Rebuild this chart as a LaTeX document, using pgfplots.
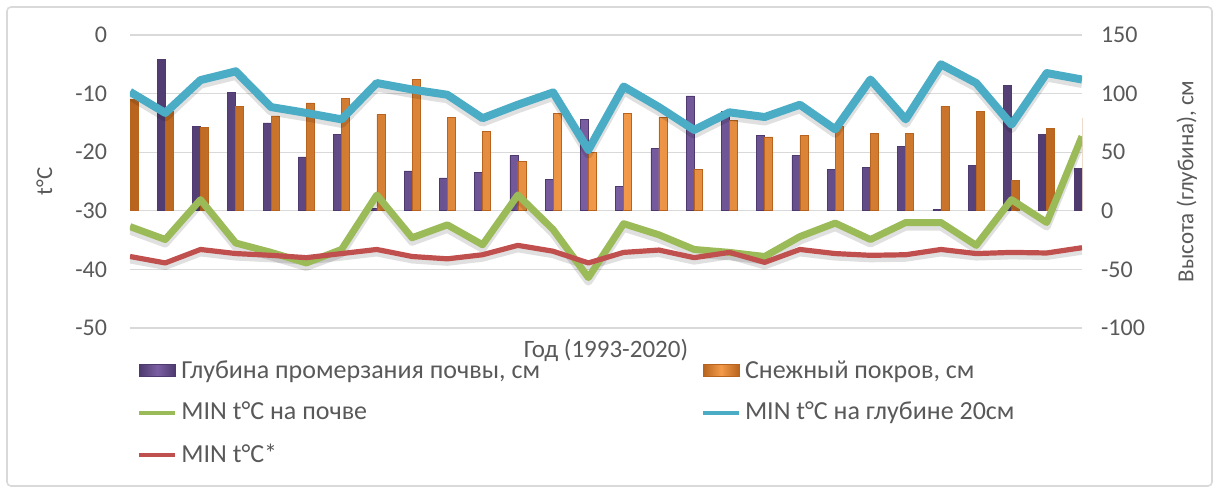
\documentclass[border=0pt]{standalone}
\usepackage{pgfplots}
\pgfplotsset{compat=1.18}
\usepackage{pgfplotstable}
\usepackage{fontspec}
\setmainfont{Carlito}
\definecolor{cpurple}{HTML}{7A5FA3}
\definecolor{cpurpleD}{HTML}{4E3A6E}
\definecolor{corange}{HTML}{F39A4A}
\definecolor{corangeD}{HTML}{B8641E}
\definecolor{cgreen}{HTML}{9BBB59}
\definecolor{cblue}{HTML}{4BACC6}
\definecolor{cred}{HTML}{C0504D}
\definecolor{ctext}{HTML}{595959}
\definecolor{cgrid}{HTML}{D9D9D9}

\pgfplotstableread{
i  frost snow  soil  deep  air
0  40    95   -32.7  -9.7  -37.8
1  129   85   -34.9  -13.3 -38.9
2  72    71   -28.1  -7.7  -36.6
3  101   89   -35.5  -6.2  -37.3
4  75    81   -37.1  -12.3 -37.6
5  46    92   -38.9  -13.3 -38.0
6  65    96   -36.6  -14.4 -37.3
7  2     82   -27.3  -8.2  -36.6
8  34    112  -34.6  -9.3  -37.8
9  28    80   -32.4  -10.2 -38.2
10 33    68   -35.8  -14.2 -37.5
11 47    42   -27.3  -11.9 -35.9
12 27    83   -33.2  -9.8  -36.9
13 78    50   -41.4  -19.6 -38.9
14 21    83   -32.2  -8.8  -37.1
15 53    80   -34.1  -12.3 -36.7
16 98    35   -36.6  -16.2 -38.0
17 85    77   -37.1  -13.2 -37.1
18 64    63   -37.8  -14.0 -38.8
19 47    64   -34.4  -11.9 -36.6
20 35    72   -32.1  -16.1 -37.3
21 37    66   -34.9  -7.6  -37.6
22 55    66   -32.0  -14.4 -37.5
23 1     89   -32.0  -5.0  -36.6
24 39    85   -35.9  -8.2  -37.3
25 107   26   -28.1  -15.3 -37.1
26 65    70   -32.0  -6.5  -37.2
27 36    79   -17.3  -7.6  -36.3
}\data

\begin{document}
\begin{tikzpicture}
\useasboundingbox (0pt,0pt) rectangle (607.5pt,245.5pt);
\draw[cgrid, line width=0.8pt, rounded corners=2pt] (3.5pt,2.5pt) rectangle (606pt,242pt);
% bars on the right axis
\begin{axis}[
  at={(65pt,81.5pt)}, anchor=south west,
  scale only axis, width=476pt, height=146.5pt,
  xmin=0, xmax=27, ymin=-100, ymax=150,
  ytick={-100,-50,...,150},
  xtick=\empty,
  axis y line*=right, axis x line=none,
  axis line style={draw=none},
  major tick length=0pt,
  ymajorgrids, grid style={cgrid, line width=0.6pt},
  /pgf/number format/assume math mode=true,
  yticklabel style={font=\fontsize{12}{14}\selectfont, text=ctext, xshift=6pt},
  ylabel={Высота (глубина), см},
  ylabel style={font=\fontsize{11.5}{14}\selectfont, text=ctext, at={(axis description cs:1.11,0.5)}, anchor=center},
  ybar, bar width=4pt,
  /pgf/bar shift={0pt},
  legend columns=2,
  legend cell align=left,
  legend style={at={(axis description cs:0.001,-0.082)}, anchor=north west,
    draw=none, fill=none, font=\fontsize{13}{15}\selectfont, text=ctext,
    /tikz/every even column/.append style={column sep=78.5pt},
    row sep=6.5pt},
]
\addplot[draw=cpurpleD, line width=0.3pt, left color=cpurpleD, right color=cpurpleD, middle color=cpurple, bar shift=-2pt,
  legend image code/.code={\fill[left color=cpurpleD, right color=cpurpleD, middle color=cpurple, shading angle=90] (0pt,-3pt) rectangle (18pt,3pt);}]
  table[x=i, y=frost] {\data};
\addlegendentry{Глубина промерзания почвы, см}
\addplot[draw=corangeD, line width=0.3pt, left color=corangeD, right color=corangeD, middle color=corange, bar shift=2pt,
  legend image code/.code={\fill[left color=corangeD, right color=corangeD, middle color=corange, shading angle=90] (0pt,-3pt) rectangle (18pt,3pt);}]
  table[x=i, y=snow] {\data};
\addlegendentry{Снежный покров, см}
\addlegendimage{legend image code/.code={\draw[cgreen, line width=2pt] (0pt,0pt) -- (18pt,0pt);}}
\addlegendentry{MIN t\textdegree C на почве}
\addlegendimage{legend image code/.code={\draw[cblue, line width=2pt] (0pt,0pt) -- (18pt,0pt);}}
\addlegendentry{MIN t\textdegree C на глубине 20см}
\addlegendimage{legend image code/.code={\draw[cred, line width=2pt] (0pt,0pt) -- (18pt,0pt);}}
\addlegendentry{MIN t\textdegree C*}
\end{axis}
% lines on the left axis
\begin{axis}[
  at={(65pt,81.5pt)}, anchor=south west,
  scale only axis, width=476pt, height=146.5pt,
  xmin=0, xmax=27, ymin=-50, ymax=0,
  ytick={-50,-40,...,0},
  xtick=\empty,
  axis y line*=left, axis x line*=bottom,
  axis line style={draw=none},
  major tick length=0pt,
  /pgf/number format/assume math mode=true,
  yticklabel style={font=\fontsize{12}{14}\selectfont, text=ctext, xshift=-8pt},
  ylabel={t\textdegree C},
  ylabel style={font=\fontsize{11.5}{14}\selectfont, text=ctext, at={(axis description cs:-0.09,0.5)}, anchor=center},
  xlabel={Год (1993-2020)},
  xlabel style={font=\fontsize{12.5}{15}\selectfont, text=ctext, at={(axis description cs:0.5,-0.075)}, anchor=center},
  line join=round,
]
\addplot[black, opacity=0.12, line width=4pt, yshift=-2pt] table[x=i, y=soil] {\data};
\addplot[black, opacity=0.12, line width=4.5pt, yshift=-2pt] table[x=i, y=deep] {\data};
\addplot[black, opacity=0.12, line width=3pt, yshift=-2pt] table[x=i, y=air] {\data};
\addplot[cgreen, line width=3.5pt] table[x=i, y=soil] {\data};
\addplot[cblue, line width=4pt] table[x=i, y=deep] {\data};
\addplot[cred, line width=2.6pt] table[x=i, y=air] {\data};
\end{axis}
\end{tikzpicture}
\end{document}
